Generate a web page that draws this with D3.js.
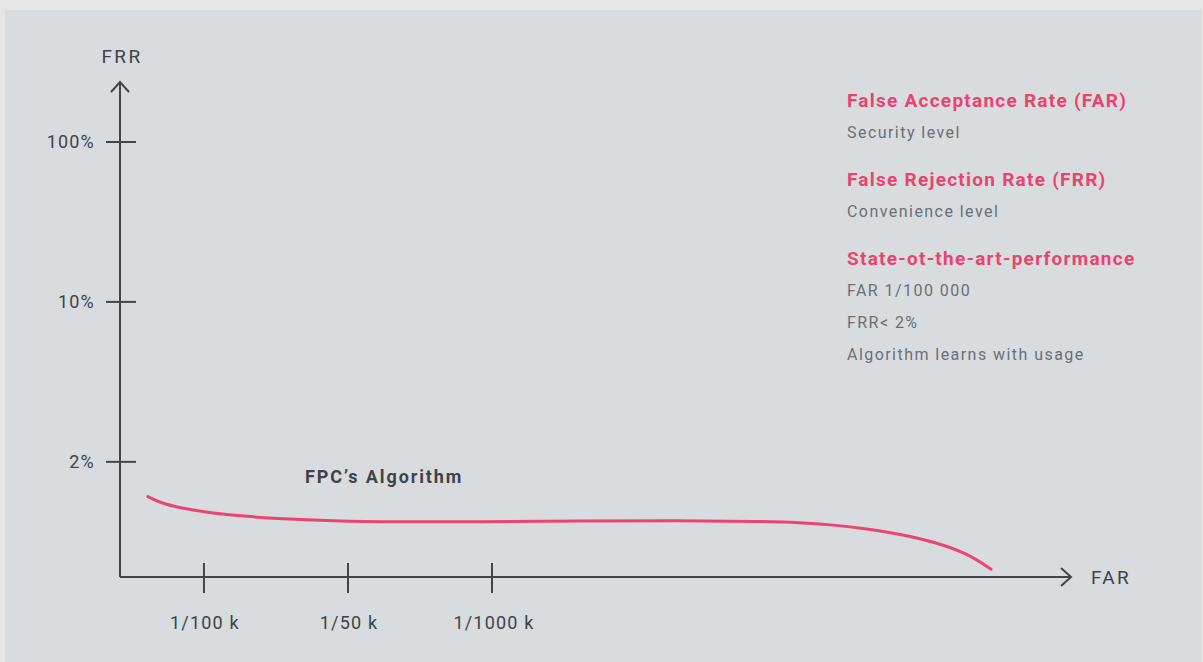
<!DOCTYPE html>
<html lang="en">
<head>
    <meta charset="UTF-8">
    <title>FAR / FRR</title>
    <script src="https://cdnjs.cloudflare.com/ajax/libs/d3/7.8.5/d3.min.js"></script>
    <style>
        body { margin: 0; padding: 0; background: #e5e5e5; }
        svg { display: block; font-family: Roboto, "Open Sans", sans-serif; }
        .axis-line { stroke: #41464b; stroke-width: 2; fill: none; }
        .lbl { fill: #3e4348; font-size: 18px; letter-spacing: 1.2px; }
        .title { fill: #3e4348; font-size: 19px; letter-spacing: 2.4px; }
        .head { fill: #e9436f; font-size: 19px; font-weight: 700; letter-spacing: 1.25px; }
        .note { fill: #6a6f74; font-size: 16px; letter-spacing: 1.45px; }
    </style>
</head>
<body>
<script>
    // y ticks (evenly spaced slots, bottom to top)
    const frrTicks = ["2%", "10%", "100%"];
    // x ticks (evenly spaced slots, left to right)
    const farTicks = ["1/100 k", "1/50 k", "1/1000 k"];

    // curve, in tick-slot units
    const curveX = [-0.389, -0.306, -0.167, 0.063, 0.299, 0.528, 0.875, 1.34, 1.917, 2.611, 3.306, 3.861, 4.139, 4.368, 4.604, 4.833, 5.063, 5.299, 5.465];
    const curveY = [-0.217, -0.255, -0.289, -0.321, -0.342, -0.356, -0.369, -0.376, -0.375, -0.369, -0.367, -0.372, -0.379, -0.394, -0.419, -0.452, -0.498, -0.571, -0.671];

    const legendHeads = ["False Acceptance Rate (FAR)", "False Rejection Rate (FRR)", "State-ot-the-art-performance"];
    const legendNotes = [["Security level"], ["Convenience level"], ["FAR 1/100 000", "FRR< 2%", "Algorithm learns with usage"]];

    const width = 1203, height = 662;

    const svg = d3.select("body").append("svg")
        .attr("width", width)
        .attr("height", height);

    svg.append("rect")
        .attr("x", 5).attr("y", 10)
        .attr("width", width - 6).attr("height", height - 10)
        .attr("fill", "#d8dcdf");

    const x = d3.scaleLinear().domain([-0.583, 6.02]).range([120, 1071]);
    const y = d3.scaleLinear().domain([-0.72, 2.375]).range([577, 82]);

    const x0 = x(-0.583), y0 = y(-0.72);

    // axes
    svg.append("line").attr("class", "axis-line")
        .attr("x1", x0).attr("y1", y0).attr("x2", x0).attr("y2", y(2.375));
    svg.append("line").attr("class", "axis-line")
        .attr("x1", x0).attr("y1", y0).attr("x2", x(6.02)).attr("y2", y0);

    // arrow heads
    svg.append("path").attr("class", "axis-line")
        .attr("d", `M${x0 - 9},${y(2.375) + 10}L${x0},${y(2.375)}L${x0 + 9},${y(2.375) + 10}`);
    svg.append("path").attr("class", "axis-line")
        .attr("d", `M${x(6.02) - 10},${y0 - 9}L${x(6.02)},${y0}L${x(6.02) - 10},${y0 + 9}`);

    // y ticks
    const yt = svg.append("g").selectAll("g").data(frrTicks).join("g")
        .attr("transform", (d, i) => `translate(0,${y(i)})`);
    yt.append("line").attr("class", "axis-line")
        .attr("x1", x0 - 14).attr("x2", x0 + 16);
    yt.append("text").attr("class", "lbl")
        .attr("x", 95).attr("dy", "0.35em")
        .attr("text-anchor", "end")
        .text(d => d);

    // x ticks
    const xt = svg.append("g").selectAll("g").data(farTicks).join("g")
        .attr("transform", (d, i) => `translate(${x(i)},0)`);
    xt.append("line").attr("class", "axis-line")
        .attr("y1", y0 - 14).attr("y2", y0 + 16);
    xt.append("text").attr("class", "lbl")
        .attr("y", 629).attr("text-anchor", "middle")
        .attr("dx", (d, i) => i === 2 ? 2 : 1)
        .text(d => d);

    // axis titles
    svg.append("text").attr("class", "title")
        .attr("x", x0 + 2).attr("y", 63).attr("text-anchor", "middle").text("FRR");
    svg.append("text").attr("class", "title")
        .attr("x", 1091).attr("y", y0).attr("dy", "0.35em").text("FAR");

    // curve
    const line = d3.line()
        .x(d => x(d[0]))
        .y(d => y(d[1]))
        .curve(d3.curveBasis);
    svg.append("path")
        .datum(d3.zip(curveX, curveY))
        .attr("d", line)
        .attr("fill", "none")
        .attr("stroke", "#ec4472")
        .attr("stroke-width", 3)
        .attr("stroke-linecap", "round");

    svg.append("text").attr("class", "lbl")
        .attr("x", 305).attr("y", 483)
        .attr("font-size", 19).attr("font-weight", 700)
        .style("letter-spacing", "1.9px")
        .text("FPC\u2019s Algorithm");

    // legend block
    const lg = svg.append("g").attr("transform", "translate(847,0)");
    const headY = [107, 186, 265];
    legendHeads.forEach((h, i) => {
        lg.append("text").attr("class", "head").attr("y", headY[i]).text(h);
        legendNotes[i].forEach((n, j) => {
            lg.append("text").attr("class", "note")
                .attr("y", headY[i] + 31 + j * 32)
                .text(n);
        });
    });
</script>
</body>
</html>
